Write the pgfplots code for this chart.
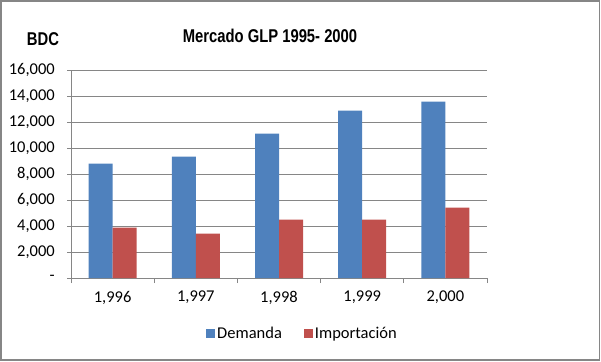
\documentclass[border=0pt]{standalone}
\usepackage{pgfplots}
\pgfplotsset{compat=1.18}
\usepackage{fontspec}
\setmainfont{Carlito}
\newfontfamily\titlefont[FakeStretch=0.8]{Liberation Sans}
\definecolor{dem}{HTML}{4F81BD}
\definecolor{imp}{HTML}{C0504D}
\definecolor{gridc}{HTML}{868686}
\begin{document}
\begin{tikzpicture}[x=1pt,y=1pt]
\path (0,0) rectangle (601,361);
\draw[gridc, line width=1.5pt] (1.2,1.2) rectangle (599.6,359.8);
\node[font=\titlefont\bfseries\fontsize{18.5}{20}\selectfont] at (270,325) {Mercado GLP 1995- 2000};
\node[font=\titlefont\bfseries\fontsize{18.5}{20}\selectfont] at (43,322) {BDC};
\begin{axis}[
  at={(71pt,83pt)}, anchor=south west, scale only axis,
  width=416pt, height=208pt,
  ymin=0, ymax=16000, xmin=-0.5, xmax=4.5,
  scaled y ticks=false,
  ybar=0pt, bar width=24pt,
  axis x line*=bottom, axis y line*=left,
  axis line style={gridc, line width=0.8pt},
  ytick={0,2000,4000,6000,8000,10000,12000,14000,16000},
  yticklabels={{-\hspace{10pt}},{2,000},{4,000},{6,000},{8,000},{10,000},{12,000},{14,000},{16,000}},
  ymajorgrids, grid style={gridc, line width=0.8pt},
  xtick={0,1,2,3,4},
  xticklabels={{1,996},{1,997},{1,998},{1,999},{2,000}},
  minor xtick={-0.5,0.5,1.5,2.5,3.5,4.5},
  tick align=outside,
  major tick length=4pt, minor tick length=5pt,
  x tick style={draw=none},
  minor x tick style={draw=gridc, line width=0.8pt},
  y tick style={gridc, line width=0.8pt},
  xminorgrids=false,
  tick label style={font=\fontsize{16.5}{19}\selectfont, text=black},
  yticklabel style={anchor=east, inner sep=0pt, xshift=-12pt},
  xticklabel style={anchor=north, inner sep=0pt, yshift=-9pt},
  legend style={at={(0.5565,-0.269)}, anchor=center, draw=none, fill=none,
    legend columns=2, font=\fontsize{16.5}{19}\selectfont,
    /tikz/every even column/.append style={column sep=20pt}},
  legend image code/.code={\fill[#1] (0pt,-4.5pt) rectangle (9pt,4.5pt);},
]
\addplot[fill=dem, draw=none] coordinates {(0,8800) (1,9330) (2,11100) (3,12870) (4,13560)};
\addplot[fill=imp, draw=none] coordinates {(0,3870) (1,3410) (2,4490) (3,4490) (4,5410)};
\legend{Demanda, Importación}
\end{axis}
\end{tikzpicture}
\end{document}
